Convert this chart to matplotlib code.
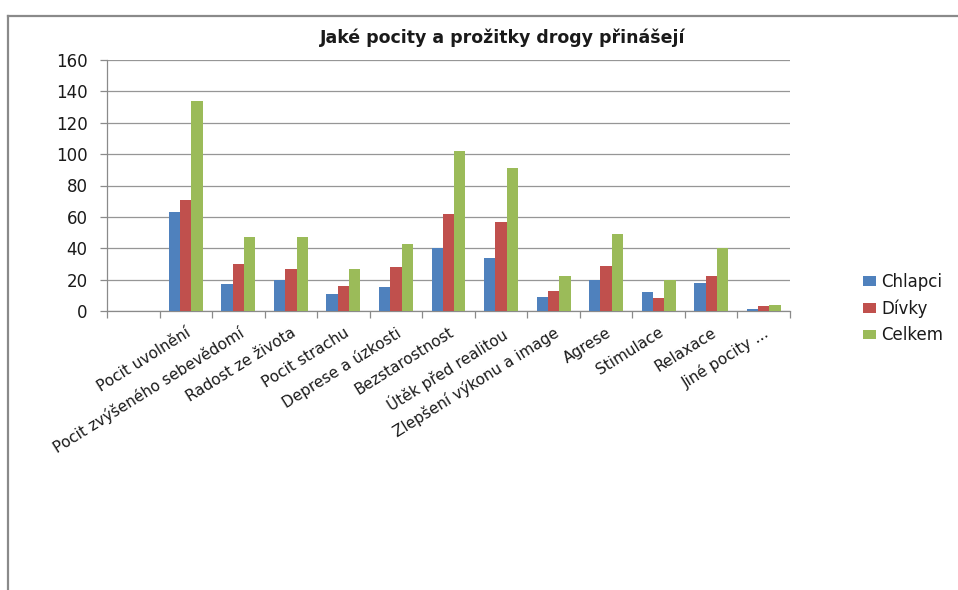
import matplotlib
matplotlib.use("Agg")
import matplotlib.pyplot as plt
from matplotlib.patches import Patch
from matplotlib.lines import Line2D
import numpy as np

title = "Jaké pocity a prožitky drogy přinášejí"
categories = ["", "Pocit uvolnění", "Pocit zvýšeného sebevědomí", "Radost ze života",
              "Pocit strachu", "Deprese a úzkosti", "Bezstarostnost", "Útěk před realitou",
              "Zlepšení výkonu a image", "Agrese", "Stimulace", "Relaxace", "Jiné pocity ..."]
series_names = ["Chlapci", "Dívky", "Celkem"]
chlapci = [0, 63, 17, 20, 11, 15, 40, 34, 9, 20, 12, 18, 1]
divky = [0, 71, 30, 27, 16, 28, 62, 57, 13, 29, 8, 22, 3]
celkem = [0, 134, 47, 47, 27, 43, 102, 91, 22, 49, 20, 40, 4]
yticks = [0, 20, 40, 60, 80, 100, 120, 140, 160]
colors = ["#4F81BD", "#C0504D", "#9BBB59"]

W, H = 958, 590
fig = plt.figure(figsize=(W / 100, H / 100), dpi=100)
fig.patch.set_facecolor("white")

ax = fig.add_axes([107 / W, 1 - 311 / H, (790 - 107) / W, (311 - 60) / H])
x = np.arange(len(categories))
bw = 0.215
for i, (vals, name, c) in enumerate(zip([chlapci, divky, celkem], series_names, colors)):
    ax.bar(x + (i - 1) * bw, vals, width=bw, color=c, label=name, zorder=3)

ax.set_xlim(-0.5, len(categories) - 0.5)
ax.set_ylim(0, 160)
ax.set_yticks(yticks)
ax.set_yticklabels([str(v) for v in yticks], fontsize=12, color="#1a1a1a")
ax.yaxis.grid(True, color="#969696", linewidth=0.9, zorder=0)
ax.set_axisbelow(True)

ax.set_xticks(x)
ax.set_xticklabels(categories, rotation=32, ha="right", rotation_mode="anchor",
                   fontsize=11, color="#1a1a1a")
ax.set_xticks(np.arange(-0.5, len(categories)), minor=True)
ax.tick_params(axis="x", which="major", length=0, pad=10)
ax.tick_params(axis="x", which="minor", length=5, color="#8a8a8a", width=0.9, direction="out")
ax.tick_params(axis="y", length=5, color="#8a8a8a", width=0.9, pad=9)

for s in ["top", "right"]:
    ax.spines[s].set_visible(False)
for s in ["left", "bottom"]:
    ax.spines[s].set_color("#8a8a8a")
    ax.spines[s].set_linewidth(0.9)

fig.text(503 / W, 1 - 38 / H, title, ha="center", va="center", fontsize=12.5,
         fontweight="bold", color="#1a1a1a")

handles = [Patch(facecolor=c, edgecolor="none") for c in colors]
fig.legend(handles, series_names, loc="upper left",
           bbox_to_anchor=(848 / W, 1 - 258 / H), frameon=False, fontsize=12,
           handlelength=0.8, handleheight=0.5, handletextpad=0.3, labelspacing=0.5,
           labelcolor="#1a1a1a")

# outer frame (partially visible)
fig.add_artist(Line2D([8 / W, 8 / W], [0, 1 - 16 / H], transform=fig.transFigure,
                      color="#8a8a8a", linewidth=1.6))
fig.add_artist(Line2D([8 / W, 1], [1 - 16 / H, 1 - 16 / H], transform=fig.transFigure,
                      color="#8a8a8a", linewidth=1.6))

fig.savefig("out.png", dpi=100)
